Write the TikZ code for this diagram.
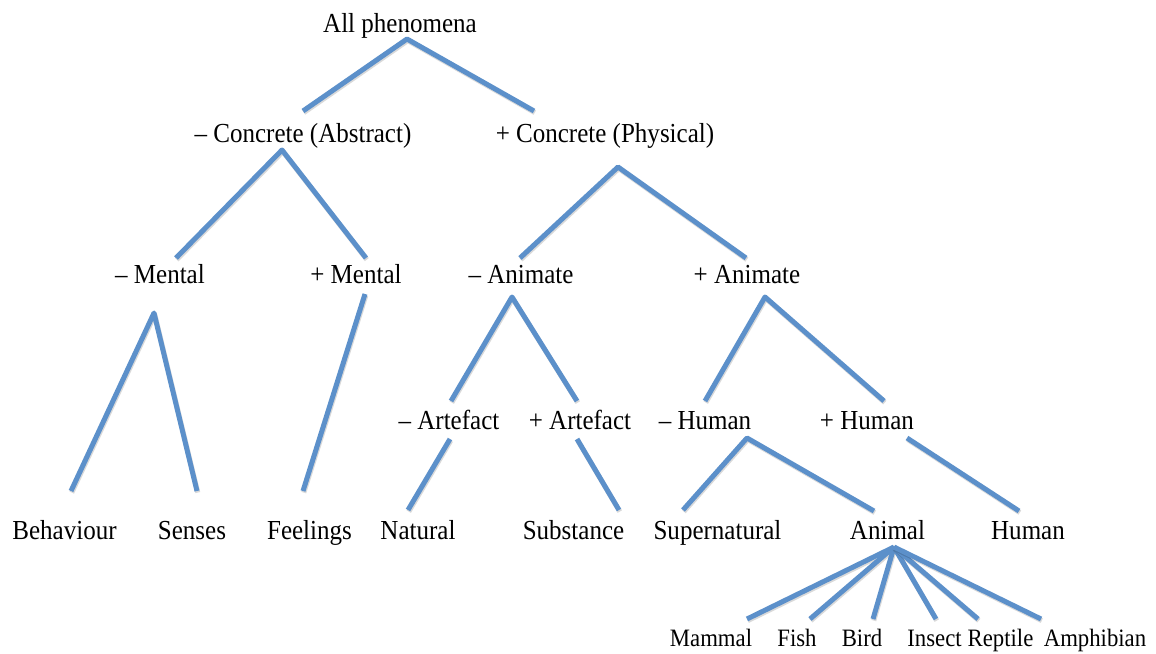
\documentclass[tikz,border=0pt]{standalone}
\usepackage{fontspec}
\setmainfont{Liberation Serif}[FakeStretch=0.91]
\definecolor{branchblue}{RGB}{92,144,202}
\newcommand{\termfont}{\fontsize{27.5}{30}\selectfont}
\newcommand{\leaffont}{\fontsize{25}{28}\selectfont}
\begin{document}
\begin{tikzpicture}[x=1pt,y=-1pt,
  term/.style={anchor=base,inner sep=0pt,font=\termfont},
  leaf/.style={anchor=base,inner sep=0pt,font=\leaffont},
  branch/.style={draw=branchblue,line width=5pt,line join=round,
    preaction={draw=black,opacity=0.15,line width=5pt,line join=round,
      transform canvas={shift={(0.8pt,-1.6pt)}}}}]
\useasboundingbox[fill=white] (0,0) rectangle (1156,653);

% ---- category labels ----
\node[term] (all)    at (400,32)  {All phenomena};
\node[term] (abs)    at (303,142) {– Concrete (Abstract)};
\node[term] (phys)   at (605,142) {+ Concrete (Physical)};
\node[term] (nment)  at (160,283) {– Mental};
\node[term] (pment)  at (356,283) {+ Mental};
\node[term] (nanim)  at (521,283) {– Animate};
\node[term] (panim)  at (747,283) {+ Animate};
\node[term] (nart)   at (449,429) {– Artefact};
\node[term] (part)   at (580,429) {+ Artefact};
\node[term] (nhum)   at (705,429) {– Human};
\node[term] (phum)   at (867,429) {+ Human};
\node[term] (behav)  at (64.5,539) {Behaviour};
\node[term] (senses) at (192,539) {Senses};
\node[term] (feel)   at (309.5,539) {Feelings};
\node[term] (natural) at (418,539) {Natural};
\node[term] (subst)  at (573.5,539) {Substance};
\node[term] (super)  at (717.5,539) {Supernatural};
\node[term] (animal) at (887.5,539) {Animal};
\node[term] (human)  at (1028,539) {Human};
\node[leaf] (mammal) at (711,646)  {Mammal};
\node[leaf] (fish)   at (797,646)  {Fish};
\node[leaf] (bird)   at (862,646)  {Bird};
\node[leaf] (insect) at (934.5,646) {Insect};
\node[leaf] (reptile) at (1000.5,646) {Reptile};
\node[leaf] (amphib) at (1095,646) {Amphibian};

% ---- branch end points ----
\coordinate (all-fork)    at (407,39);
\coordinate (abs-in)      at (303,111);
\coordinate (phys-in)     at (534,111);
\coordinate (abs-fork)    at (282,150);
\coordinate (nment-in)    at (176,258);
\coordinate (pment-in)    at (366,258);
\coordinate (phys-fork)   at (618,167);
\coordinate (nanim-in)    at (520,258);
\coordinate (panim-in)    at (746,258);
\coordinate (nment-fork)  at (154,313);
\coordinate (behav-in)    at (71,491);
\coordinate (senses-in)   at (197,491);
\coordinate (pment-out)   at (365,294);
\coordinate (feel-in)     at (303,491);
\coordinate (nanim-fork)  at (512,297);
\coordinate (nart-in)     at (451,401);
\coordinate (part-in)     at (577,401);
\coordinate (panim-fork)  at (765,297);
\coordinate (nhum-in)     at (705,401);
\coordinate (phum-in)     at (884,401);
\coordinate (nart-out)    at (450,439);
\coordinate (natural-in)  at (408,510);
\coordinate (part-out)    at (577,439);
\coordinate (subst-in)    at (619,510);
\coordinate (nhum-fork)   at (747,438);
\coordinate (super-in)    at (683,510);
\coordinate (animal-in)   at (874,511);
\coordinate (phum-out)    at (907,438);
\coordinate (human-in)    at (1019,511);
\coordinate (animal-fork) at (894,547);
\coordinate (mammal-in)   at (747,619);
\coordinate (fish-in)     at (810,619);
\coordinate (bird-in)     at (873,619);
\coordinate (insect-in)   at (936,619);
\coordinate (reptile-in)  at (978,619);
\coordinate (amphib-in)   at (1041,619);

% ---- branches ----
\draw[branch] (abs-in) -- (all-fork) -- (phys-in);
\draw[branch] (nment-in) -- (abs-fork) -- (pment-in);
\draw[branch] (nanim-in) -- (phys-fork) -- (panim-in);
\draw[branch] (behav-in) -- (nment-fork) -- (senses-in);
\draw[branch] (pment-out) -- (feel-in);
\draw[branch] (nart-in) -- (nanim-fork) -- (part-in);
\draw[branch] (nhum-in) -- (panim-fork) -- (phum-in);
\draw[branch] (nart-out) -- (natural-in);
\draw[branch] (part-out) -- (subst-in);
\draw[branch] (super-in) -- (nhum-fork) -- (animal-in);
\draw[branch] (phum-out) -- (human-in);
\foreach \k in {mammal,fish,bird,insect,reptile,amphib}
  \draw[branch] (animal-fork) -- (\k-in);
\end{tikzpicture}
\end{document}
